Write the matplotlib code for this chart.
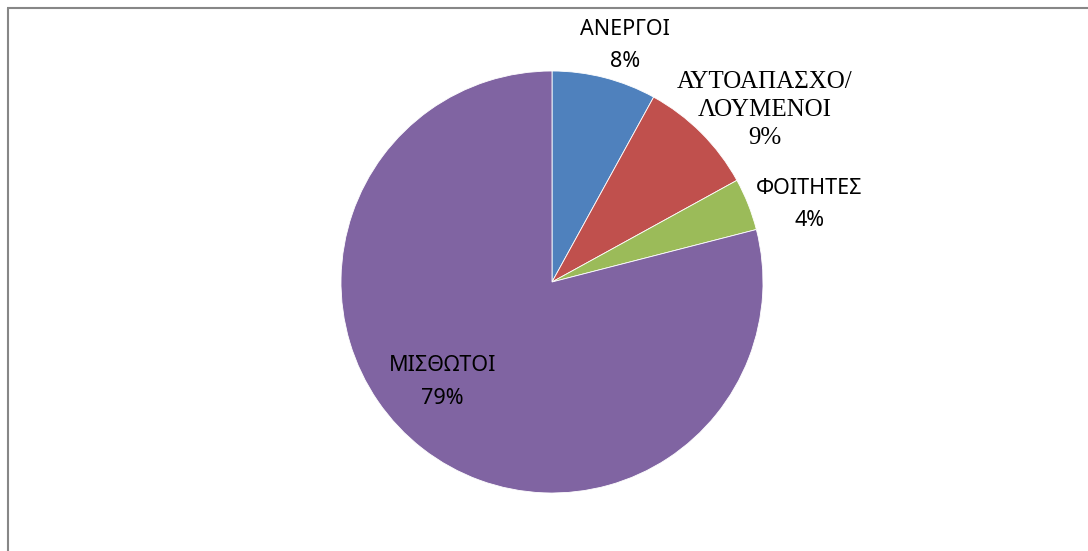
import matplotlib
matplotlib.use('Agg')
import matplotlib.pyplot as plt
from matplotlib.lines import Line2D

# occupational groups and their shares (%)
groups = ['ΑΝΕΡΓΟΙ', 'ΑΥΤΟΑΠΑΣΧΟ/\nΛΟΥΜΕΝΟΙ', 'ΦΟΙΤΗΤΕΣ', 'ΜΙΣΘΩΤΟΙ']
shares = [8, 9, 4, 79]
colors = ['#4F81BD', '#C0504D', '#9BBB59', '#8064A2']

# where each label sits (pie radius = 1), and which face it uses
label_xy = [(0.346, 1.121), (1.01, 0.815), (1.22, 0.367), (-0.52, -0.474)]
label_serif = [False, True, False, False]

W, H = 1088, 551
fig = plt.figure(figsize=(W / 100, H / 100), dpi=100)
ax = fig.add_axes([0, 0, 1, 1])

cx, cy, r = 552, 282, 211

ax.pie(shares, colors=colors, startangle=90, counterclock=False,
       radius=1, center=(0, 0), frame=True,
       wedgeprops=dict(edgecolor='white', linewidth=0.6))
ax.set_xlim(-cx / r, (W - cx) / r)
ax.set_ylim((cy - H) / r, cy / r)
ax.set_aspect('auto')
ax.axis('off')

for name, v, (x, y), serif in zip(groups, shares, label_xy, label_serif):
    txt = name + '\n' + f'{v}%'
    if serif:
        ax.text(x, y, txt, ha='center', va='center', fontsize=18,
                family=['Liberation Serif', 'DejaVu Serif'], linespacing=1.35,
                color='#000000')
    else:
        ax.text(x, y, txt, ha='center', va='center', fontsize=15.5,
                family=['Noto Sans', 'DejaVu Sans'], linespacing=1.7,
                color='#000000')

# chart border (left and top edges visible)
fig.add_artist(Line2D([7.5 / W, 7.5 / W], [0, 1 - 7.5 / H], color='#878787',
                      lw=1.5, solid_capstyle='butt'))
fig.add_artist(Line2D([7 / W, 1], [1 - 7.5 / H, 1 - 7.5 / H], color='#878787',
                      lw=1.5, solid_capstyle='butt'))

fig.savefig('out.png', dpi=100)
